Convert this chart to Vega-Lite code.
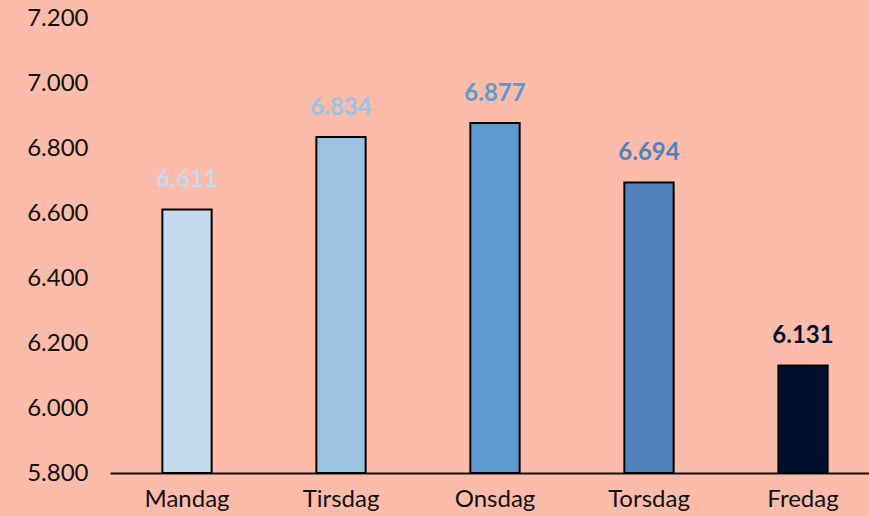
{
  "$schema": "https://vega.github.io/schema/vega-lite/v6.json",
  "width": 770,
  "height": 455,
  "autosize": "none",
  "padding": {"left": 110, "top": 18, "right": 0, "bottom": 43},
  "background": "#FDBBA9",
  "config": {"view": {"stroke": null}, "font": "Lato"},
  "data": {"values": [
    {"dag": "Mandag", "verdi": 6611, "farge": "#C5DAEE", "tekst": "6.611"},
    {"dag": "Tirsdag", "verdi": 6834, "farge": "#9DC3E3", "tekst": "6.834"},
    {"dag": "Onsdag", "verdi": 6877, "farge": "#5E9ACF", "tekst": "6.877"},
    {"dag": "Torsdag", "verdi": 6694, "farge": "#5083BE", "tekst": "6.694"},
    {"dag": "Fredag", "verdi": 6131, "farge": "#000F2E", "tekst": "6.131"}
  ]},
  "encoding": {
    "x": {"field": "dag", "type": "nominal", "sort": null,
      "scale": {"paddingInner": 0.68, "paddingOuter": 0.34},
      "axis": {"title": null, "labelAngle": 0, "labelFontSize": 24, "labelColor": "#111", "labelPadding": 14, "ticks": false, "domainColor": "#111", "domainWidth": 2, "labelFont": "Lato"}},
    "y": {"field": "verdi", "type": "quantitative",
      "scale": {"domain": [5800, 7200], "zero": false, "nice": false},
      "axis": {"title": null, "values": [5800, 6000, 6200, 6400, 6600, 6800, 7000, 7200], "format": ",.0f", "labelExpr": "replace(datum.label, ',', '.')", "grid": false, "domain": false, "ticks": false, "labelFontSize": 24, "labelColor": "#111", "labelPadding": 22, "labelFont": "Lato"}}
  },
  "layer": [
    {"mark": {"type": "bar", "stroke": "#000", "strokeWidth": 2},
     "encoding": {"y2": {"datum": 5800}, "color": {"field": "farge", "type": "nominal", "scale": null}}},
    {"mark": {"type": "text", "dy": -29, "fontSize": 24, "fontWeight": "bold", "font": "Lato"},
     "encoding": {"text": {"field": "tekst"}, "color": {"field": "farge", "type": "nominal", "scale": null}}}
  ]
}
